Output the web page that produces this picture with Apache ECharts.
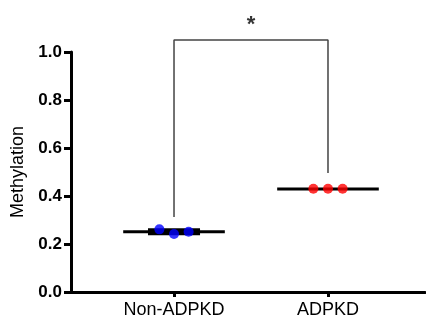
<!DOCTYPE html>
<html><head><meta charset="utf-8">
<script src="https://cdn.jsdelivr.net/npm/echarts@6/dist/echarts.min.js"></script>
<style>html,body{margin:0;padding:0;background:#fff}#c{width:426px;height:322px}</style>
</head><body><div id="c"></div>
<script>
var categories = ['Non-ADPKD', 'ADPKD'];
var groupPos = [1, 2];
var nonPoints = [0.261, 0.242, 0.251];
var adpkdPoints = [0.43, 0.43, 0.43];
var pointOffsets = [-0.095, 0, 0.095];
var means = [0.251, 0.429];
var errLow = [0.245, 0.429];
var errHigh = [0.257, 0.429];
var bracketBottoms = [0.3125, 0.496];
var bracketTop = 1.05;
var sigText = '*';
var yTicks = [0, 0.2, 0.4, 0.6, 0.8, 1.0];

var meanHalf = 0.33, capHalf = 0.169;
function meanLine(i){ return [[groupPos[i]-meanHalf, means[i]],[groupPos[i]+meanHalf, means[i]]]; }
function pts(arr, i){ return arr.map(function(v,k){ return [groupPos[i]+pointOffsets[k], v]; }); }

var chart = echarts.init(document.getElementById('c'));
chart.setOption({
  animation:false,
  grid:{left:71, right:1, top:52, bottom:30, containLabel:false},
  xAxis:{type:'value', min:0.331, max:2.63,
    axisLine:{show:true, onZero:false, lineStyle:{color:'#000', width:3}},
    axisTick:{show:true, customValues:groupPos, length:5, lineStyle:{color:'#000', width:3}},
    axisLabel:{customValues:groupPos, margin:9, color:'#000', fontFamily:'Liberation Sans, Arial', fontSize:18,
      formatter:function(v){ var i = groupPos.indexOf(Math.round(v)); return i>=0?categories[i]:''; }},
    splitLine:{show:false}},
  yAxis:{type:'value', min:0, max:1, interval:0.2,
    name:'Methylation', nameLocation:'middle', nameGap:42,
    nameTextStyle:{color:'#000', fontFamily:'Liberation Sans, Arial', fontSize:18},
    axisLine:{show:true, lineStyle:{color:'#000', width:3}},
    axisTick:{show:true, length:7, lineStyle:{color:'#000', width:3}},
    axisLabel:{margin:9, color:'#000', fontWeight:'bold', fontFamily:'Liberation Sans, Arial', fontSize:17,
      formatter:function(v){ return v.toFixed(1); }},
    splitLine:{show:false}},
  series:[
    {type:'line', data:meanLine(0), symbol:'none', lineStyle:{color:'#000', width:3}, z:2},
    {type:'line', data:meanLine(1), symbol:'none', lineStyle:{color:'#000', width:3}, z:2},
    {type:'line', data:[[groupPos[0]-capHalf, (errLow[0]+errHigh[0])/2],[groupPos[0]+capHalf, (errLow[0]+errHigh[0])/2]], symbol:'none', lineStyle:{color:'#000', width:7}, z:2},
    {type:'scatter', data:pts(nonPoints,0), symbolSize:10, itemStyle:{color:'#0000ff'}, z:3},
    {type:'scatter', data:pts(adpkdPoints,1), symbolSize:10, itemStyle:{color:'#ff0000'}, z:3},
    {type:'line', clip:false, data:[[groupPos[0],bracketBottoms[0]],[groupPos[0],bracketTop],[groupPos[1],bracketTop],[groupPos[1],bracketBottoms[1]]],
      symbol:'none', lineStyle:{color:'#444', width:1.5}, z:1},
    {type:'scatter', clip:false, data:[[(groupPos[0]+groupPos[1])/2, bracketTop]], symbolSize:0,
      label:{show:true, position:'top', distance:4, formatter:sigText, color:'#000', fontWeight:'bold', fontSize:22, fontFamily:'Liberation Sans, Arial'}}
  ]
});
</script></body></html>
